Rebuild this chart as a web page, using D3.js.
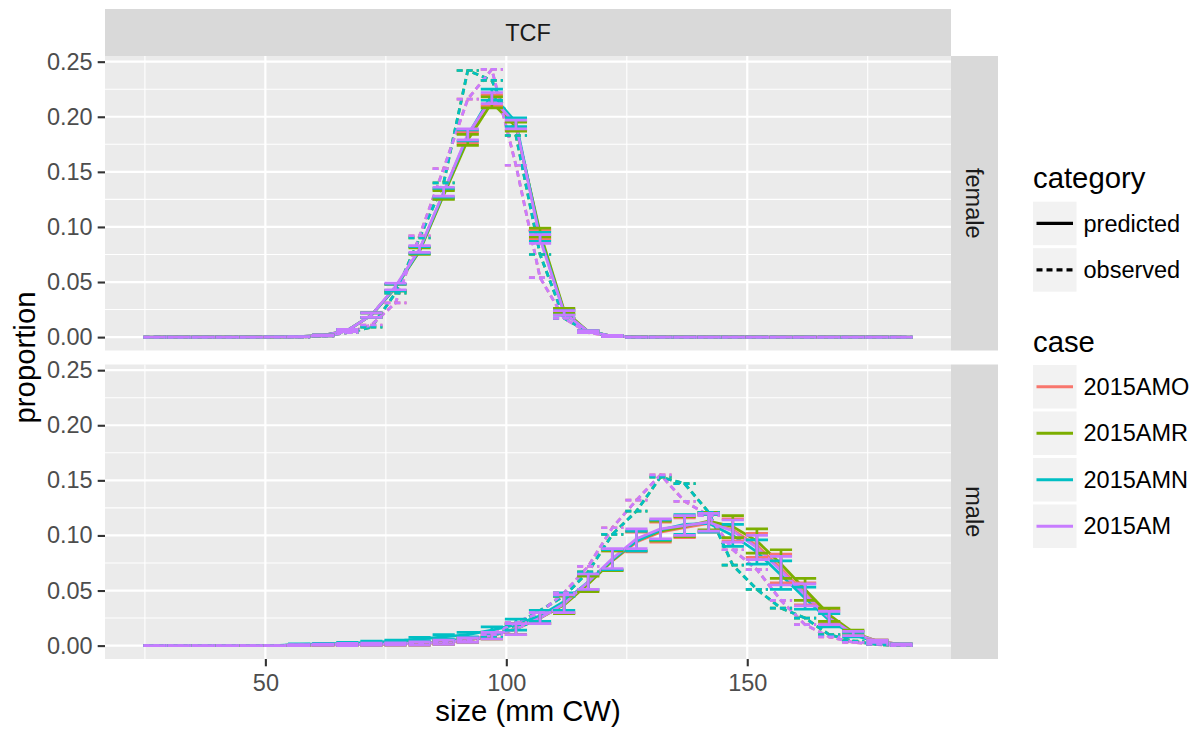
<!DOCTYPE html>
<html><head><meta charset="utf-8">
<script src="https://cdnjs.cloudflare.com/ajax/libs/d3/7.8.5/d3.min.js"></script>
<style>
body{margin:0;background:#fff}
text{font-family:"Liberation Sans",Arial,Helvetica,sans-serif}
</style>
</head><body>
<svg id="chart" width="1196" height="732"></svg>
<script>
// ---------------- data ----------------
const bins = [27,32,37,42,47,52,57,62,67,72,77,82,87,92,97,102,107,112,117,122,127,132,137,142,147,152,157,162,167,172,177,182];
const cases = ["2015AMO","2015AMR","2015AMN","2015AM"];
const caseColors = ["#F8766D","#7CAE00","#00BFC4","#C77CFF"];
const categories = ["predicted","observed"];
const sexes = ["female","male"];
const panelTitle = "TCF";
const xTicks = [50,100,150];
const yTicks = [0,0.05,0.10,0.15,0.20,0.25];
const errWidth = 4.6;

// female predicted, by case
const femalePredAMO = [0,0,0,0,0,0.0002,0.0005,0.0015,0.006,0.020,0.045,0.079,0.130,0.181,0.215,0.192,0.093,0.023,0.005,0.001,0,0,0,0,0,0,0,0,0,0,0,0];
const femalePredAMR = [0,0,0,0,0,0.0002,0.0005,0.0015,0.006,0.020,0.045,0.078,0.129,0.179,0.213,0.191,0.095,0.024,0.005,0.001,0,0,0,0,0,0,0,0,0,0,0,0];
const femalePredAMN = [0,0,0,0,0,0.0002,0.0005,0.0015,0.006,0.020,0.045,0.079,0.131,0.183,0.220,0.195,0.091,0.022,0.005,0.001,0,0,0,0,0,0,0,0,0,0,0,0];
const femalePredAM  = [0,0,0,0,0,0.0002,0.0005,0.0015,0.006,0.020,0.046,0.080,0.132,0.184,0.217,0.193,0.089,0.022,0.005,0.001,0,0,0,0,0,0,0,0,0,0,0,0];
const femaleHalf    = [0,0,0,0,0,0,0,0.0005,0.001,0.002,0.003,0.003,0.004,0.005,0.005,0.004,0.004,0.002,0.001,0.0005,0,0,0,0,0,0,0,0,0,0,0,0];
// female observed (two distinct observed series)
const femaleObsA = [0,0,0,0,0,0,0,0.001,0.004,0.011,0.031,0.092,0.153,0.216,0.243,0.156,0.054,0.017,0.004,0.001,0,0,0,0,0,0,0,0,0,0,0,0];
const femaleObsB = [0,0,0,0,0,0,0,0.001,0.004,0.009,0.040,0.090,0.140,0.242,0.233,0.183,0.075,0.017,0.005,0.001,0,0,0,0,0,0,0,0,0,0,0,0];

// male predicted, by case
const malePredAMO = [0,0,0,0,0,0,0.0005,0.0008,0.001,0.0012,0.0015,0.002,0.003,0.005,0.009,0.015,0.025,0.038,0.057,0.077,0.094,0.103,0.107,0.111,0.105,0.091,0.070,0.047,0.026,0.011,0.004,0.001];
const malePredAMR = [0,0,0,0,0,0,0.0005,0.0008,0.001,0.0012,0.0015,0.002,0.003,0.005,0.009,0.015,0.025,0.037,0.056,0.077,0.095,0.104,0.108,0.113,0.108,0.095,0.074,0.051,0.028,0.012,0.004,0.001];
const malePredAMN = [0,0,0,0,0,0,0.001,0.0015,0.002,0.003,0.004,0.006,0.008,0.010,0.014,0.019,0.027,0.040,0.058,0.078,0.095,0.105,0.110,0.111,0.100,0.085,0.064,0.043,0.023,0.010,0.003,0.001];
const malePredAM  = [0,0,0,0,0,0,0.0005,0.0008,0.001,0.0012,0.0015,0.002,0.003,0.005,0.009,0.015,0.025,0.038,0.058,0.079,0.097,0.106,0.109,0.112,0.104,0.089,0.068,0.046,0.025,0.011,0.004,0.001];
const maleHalf    = [0,0,0,0,0,0,0.0005,0.0005,0.001,0.001,0.001,0.0015,0.002,0.002,0.003,0.005,0.005,0.008,0.007,0.009,0.009,0.009,0.009,0.008,0.010,0.011,0.013,0.010,0.006,0.002,0.001,0.0005];
// male observed
const maleObsA = [0,0,0,0,0,0,0.0005,0.001,0.001,0.001,0.002,0.002,0.003,0.005,0.010,0.021,0.030,0.048,0.072,0.107,0.132,0.155,0.131,0.118,0.087,0.069,0.041,0.019,0.008,0.003,0.001,0];
const maleObsB = [0,0,0,0,0,0,0.0005,0.001,0.001,0.002,0.002,0.003,0.004,0.006,0.008,0.019,0.032,0.045,0.067,0.101,0.122,0.153,0.147,0.121,0.073,0.051,0.034,0.025,0.010,0.004,0.001,0];

const predBySex = {
  female: [femalePredAMO, femalePredAMR, femalePredAMN, femalePredAM],
  male:   [malePredAMO, malePredAMR, malePredAMN, malePredAM]
};
const halfBySex = { female: femaleHalf, male: maleHalf };
const obsBySex = {
  female: [femaleObsA, femaleObsB, femaleObsB, femaleObsA],
  male:   [maleObsA, maleObsB, maleObsB, maleObsA]
};

// ---------------- layout ----------------
const W = 1196, H = 732;
const panelL = 105, panelR = 951;
const panels = { female: {top:56, bottom:350.5}, male: {top:364.5, bottom:659} };
const stripW = 47;
const FONT_SMALL = 23.5, FONT_BIG = 29.3;

const svg = d3.select("#chart");
svg.append("rect").attr("width",W).attr("height",H).attr("fill","#fff");

// scales
const xExt = [d3.min(bins)-errWidth/2, d3.max(bins)+errWidth/2];
const xPad = (xExt[1]-xExt[0])*0.05;
const x = d3.scaleLinear().domain([xExt[0]-xPad, xExt[1]+xPad]).range([panelL, panelR]);

let yMax = 0;
sexes.forEach(s => {
  predBySex[s].forEach(arr => arr.forEach((v,i)=>{ yMax = Math.max(yMax, v + halfBySex[s][i]); }));
  obsBySex[s].forEach(arr => arr.forEach(v=>{ yMax = Math.max(yMax, v); }));
});
const yDom = [0 - yMax*0.05, yMax*1.05];

const xMinor = [25,75,125,175];
const yMinor = [0.025,0.075,0.125,0.175,0.225];

// top strip
svg.append("rect").attr("x",panelL).attr("y",9).attr("width",panelR-panelL).attr("height",47).attr("fill","#D9D9D9");
svg.append("text").attr("x",(panelL+panelR)/2).attr("y",32.5).attr("dy","0.35em")
  .attr("text-anchor","middle").attr("font-size",FONT_SMALL).attr("fill","#1A1A1A").text(panelTitle);

sexes.forEach(sex => {
  const p = panels[sex];
  const y = d3.scaleLinear().domain(yDom).range([p.bottom, p.top]);
  const g = svg.append("g");
  // background
  g.append("rect").attr("x",panelL).attr("y",p.top).attr("width",panelR-panelL).attr("height",p.bottom-p.top).attr("fill","#EBEBEB");
  // minor grid
  g.selectAll(".ymin").data(yMinor).enter().append("line")
    .attr("x1",panelL).attr("x2",panelR).attr("y1",d=>y(d)).attr("y2",d=>y(d))
    .attr("stroke","#fff").attr("stroke-width",1.1);
  g.selectAll(".xmin").data(xMinor).enter().append("line")
    .attr("y1",p.top).attr("y2",p.bottom).attr("x1",d=>x(d)).attr("x2",d=>x(d))
    .attr("stroke","#fff").attr("stroke-width",1.1);
  // major grid
  g.selectAll(".ymaj").data(yTicks).enter().append("line")
    .attr("x1",panelL).attr("x2",panelR).attr("y1",d=>y(d)).attr("y2",d=>y(d))
    .attr("stroke","#fff").attr("stroke-width",2.2);
  g.selectAll(".xmaj").data(xTicks).enter().append("line")
    .attr("y1",p.top).attr("y2",p.bottom).attr("x1",d=>x(d)).attr("x2",d=>x(d))
    .attr("stroke","#fff").attr("stroke-width",2.2);

  const clip = "clip-"+sex;
  svg.append("clipPath").attr("id",clip).append("rect")
    .attr("x",panelL).attr("y",p.top).attr("width",panelR-panelL).attr("height",p.bottom-p.top);
  const dg = g.append("g").attr("clip-path","url(#"+clip+")");

  const line = d3.line().x(d=>x(d.x)).y(d=>y(d.v));
  const half = halfBySex[sex];

  // layer 1: lines
  cases.forEach((c,ci) => {
    const pred = predBySex[sex][ci].map((v,i)=>({x:bins[i], v}));
    const obs = obsBySex[sex][ci].map((v,i)=>({x:bins[i], v}));
    dg.append("path").attr("d",line(pred)).attr("fill","none")
      .attr("stroke",caseColors[ci]).attr("stroke-width",2.8).attr("stroke-linejoin","round");
    dg.append("path").attr("d",line(obs)).attr("fill","none")
      .attr("stroke",caseColors[ci]).attr("stroke-width",2.8).attr("stroke-dasharray","6,4").attr("stroke-linejoin","round");
  });
  // layer 2: error bars
  const ebPath = (xc, lo, hi) => {
    const x0 = x(xc - errWidth/2), x1 = x(xc + errWidth/2), xm = x(xc);
    return `M${x0},${y(hi)}H${x1}M${xm},${y(hi)}V${y(lo)}M${x0},${y(lo)}H${x1}`;
  };
  cases.forEach((c,ci) => {
    const pred = predBySex[sex][ci];
    const obs = obsBySex[sex][ci];
    dg.append("path").attr("fill","none").attr("stroke",caseColors[ci]).attr("stroke-width",2.7)
      .attr("d", bins.map((b,i)=>ebPath(b, pred[i]-half[i], pred[i]+half[i])).join(""));
    dg.append("path").attr("fill","none").attr("stroke",caseColors[ci]).attr("stroke-width",2.7)
      .attr("stroke-dasharray","6,4")
      .attr("d", bins.map((b,i)=>ebPath(b, obs[i], obs[i])).join(""));
  });

  // y axis
  const ya = svg.append("g").attr("transform",`translate(${panelL},0)`)
    .call(d3.axisLeft(y).tickValues(yTicks).tickSize(7.3).tickPadding(5).tickFormat(d3.format(".2f")));
  ya.select(".domain").remove();
  ya.selectAll(".tick line").attr("stroke","#333333").attr("stroke-width",2.1);
  ya.selectAll(".tick text").attr("font-size",FONT_SMALL).attr("fill","#4D4D4D")
    .attr("font-family","Liberation Sans, Arial, sans-serif");

  // right strip
  svg.append("rect").attr("x",panelR).attr("y",p.top).attr("width",stripW).attr("height",p.bottom-p.top).attr("fill","#D9D9D9");
  svg.append("text").attr("transform",`translate(${panelR+stripW/2},${(p.top+p.bottom)/2}) rotate(90)`)
    .attr("dy","0.35em").attr("text-anchor","middle").attr("font-size",FONT_SMALL).attr("fill","#1A1A1A").text(sex);
});

// x axis
const xa = svg.append("g").attr("transform",`translate(0,${panels.male.bottom})`)
  .call(d3.axisBottom(x).tickValues(xTicks).tickSize(7.3).tickPadding(8).tickFormat(d3.format("d")));
xa.select(".domain").remove();
xa.selectAll(".tick line").attr("stroke","#333333").attr("stroke-width",2.1);
xa.selectAll(".tick text").attr("font-size",FONT_SMALL).attr("fill","#4D4D4D")
  .attr("font-family","Liberation Sans, Arial, sans-serif");

// axis titles
svg.append("text").attr("x",(panelL+panelR)/2).attr("y",720.5).attr("text-anchor","middle")
  .attr("font-size",FONT_BIG).attr("fill","#000").text("size (mm CW)");
svg.append("text").attr("transform",`translate(35,${(panels.female.top+panels.male.bottom)/2}) rotate(-90)`)
  .attr("text-anchor","middle").attr("font-size",FONT_BIG).attr("fill","#000").text("proportion");

// legends
const legX = 1033, keyW = 43.5, keyH = 43.5, keyPitch = 46.5;
function legendBlock(title, titleBaseline, firstKeyTop, items, styler) {
  svg.append("text").attr("x",legX).attr("y",titleBaseline).attr("font-size",FONT_BIG).attr("fill","#000").text(title);
  items.forEach((it,i) => {
    const ky = firstKeyTop + i*keyPitch;
    svg.append("rect").attr("x",legX).attr("y",ky).attr("width",keyW).attr("height",keyH).attr("fill","#F2F2F2");
    const ln = svg.append("line").attr("x1",legX+3.5).attr("x2",legX+keyW-3.5)
      .attr("y1",ky+keyH/2).attr("y2",ky+keyH/2);
    styler(ln, it, i);
    svg.append("text").attr("x",legX+keyW+7).attr("y",ky+keyH/2).attr("dy","0.35em")
      .attr("font-size",FONT_SMALL).attr("fill","#000").text(it);
  });
}
legendBlock("category", 188, 201.7, categories, (ln,it,i)=>{
  ln.attr("stroke","#000").attr("stroke-width",3.2);
  if (it === "observed") ln.attr("stroke-dasharray","6,4");
});
legendBlock("case", 352, 365, cases, (ln,it,i)=>{
  ln.attr("stroke",caseColors[i]).attr("stroke-width",2.8);
});
</script>
</body></html>
